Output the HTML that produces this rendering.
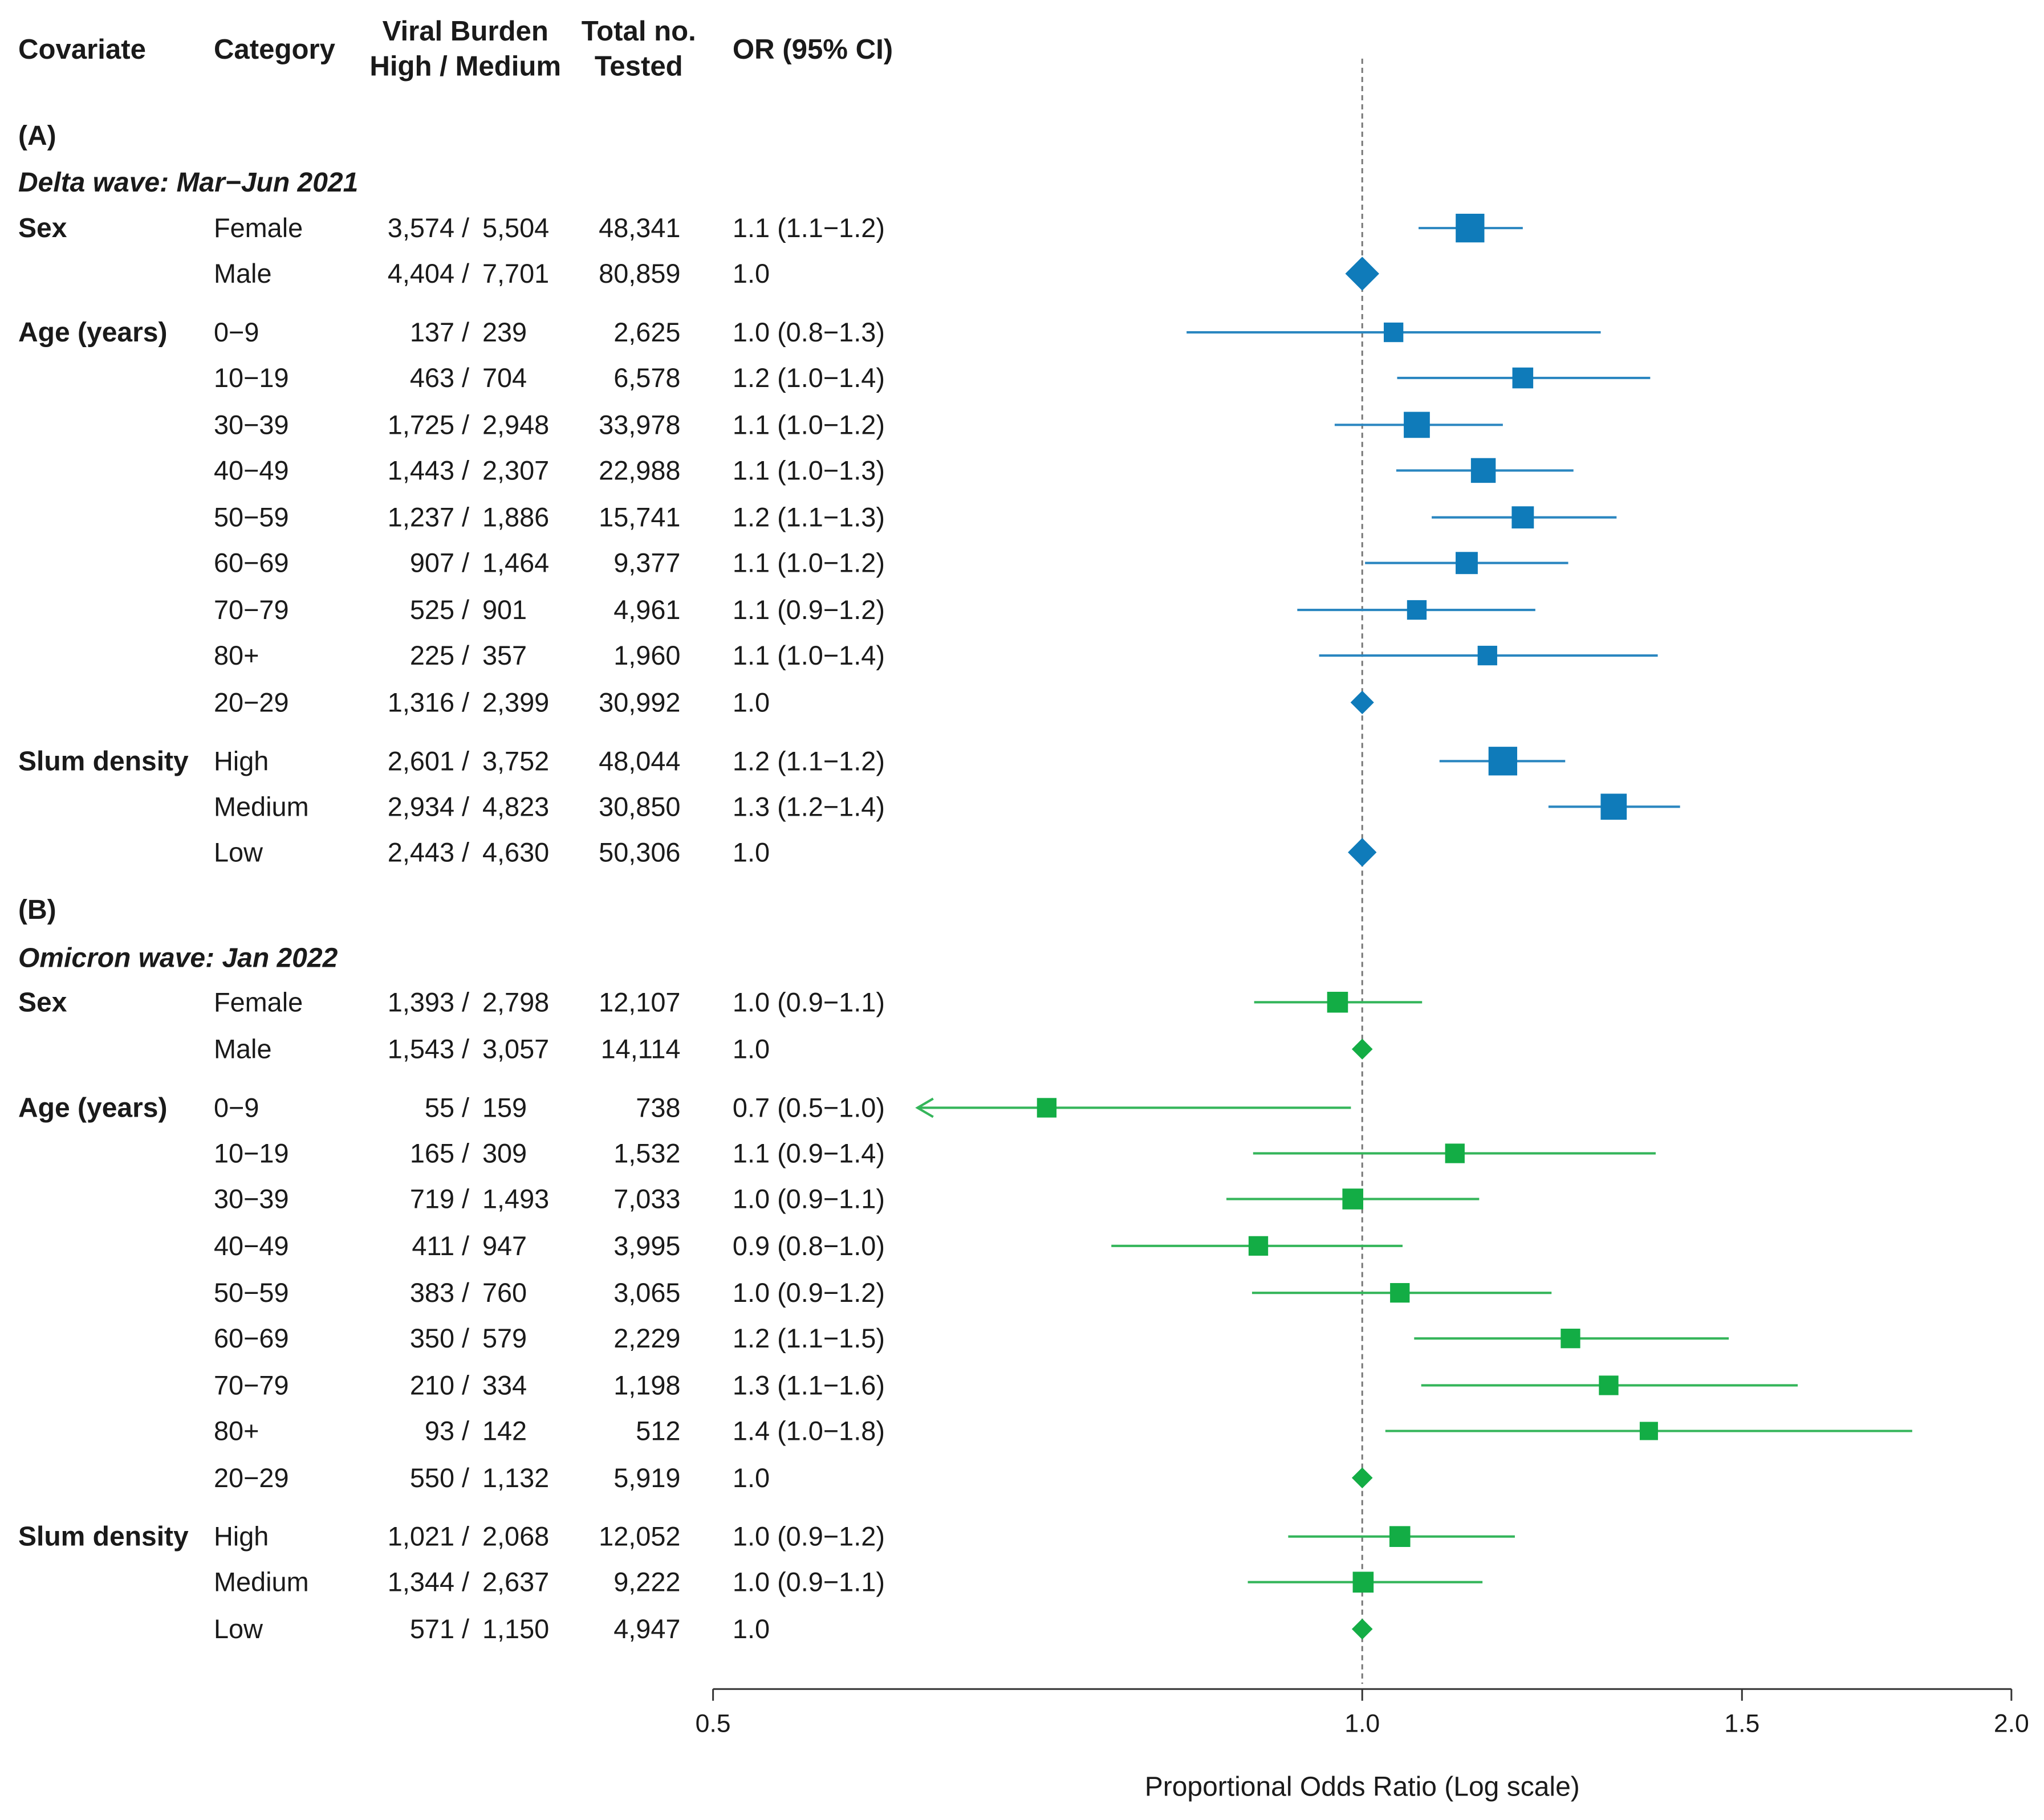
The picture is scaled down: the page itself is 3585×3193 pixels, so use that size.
<!DOCTYPE html>
<html><head><meta charset="utf-8"><style>
html,body{margin:0;padding:0;background:#fff}
svg{display:block}
text{font-family:"Liberation Sans",Arial,sans-serif;fill:#1a1a1a}
</style></head><body>
<svg id="chart" width="3585" height="3193" viewBox="0 0 1568 1396.5" preserveAspectRatio="none" xmlns="http://www.w3.org/2000/svg">
<g id="hdr" font-weight="bold" font-size="21.5">
<text x="14" y="45">Covariate</text>
<text x="164" y="45">Category</text>
<text x="357" y="31" text-anchor="middle">Viral Burden</text>
<text x="357" y="58" text-anchor="middle">High / Medium</text>
<text x="490" y="31" text-anchor="middle">Total no.</text>
<text x="490" y="58" text-anchor="middle">Tested</text>
<text x="562" y="45">OR (95% CI)</text>
</g>
<g id="labels" font-size="20.5"></g>
<g id="plot"></g>
</svg>
<script>
const NS="http://www.w3.org/2000/svg";
// Data arrays
const rowY=[175,210,255,290,326,361,397,432,468,503,539,584,619,654,769,805,850,885,920,956,992,1027,1063,1098,1134,1179,1214,1250];
const covariates=["Sex","","Age (years)","","","","","","","","","Slum density","","","Sex","","Age (years)","","","","","","","","","Slum density","",""];
const categories=["Female","Male","0\u22129","10\u221219","30\u221239","40\u221249","50\u221259","60\u221269","70\u221279","80+","20\u221229","High","Medium","Low","Female","Male","0\u22129","10\u221219","30\u221239","40\u221249","50\u221259","60\u221269","70\u221279","80+","20\u221229","High","Medium","Low"];
const highCounts=["3,574","4,404","137","463","1,725","1,443","1,237","907","525","225","1,316","2,601","2,934","2,443","1,393","1,543","55","165","719","411","383","350","210","93","550","1,021","1,344","571"];
const medCounts=["5,504","7,701","239","704","2,948","2,307","1,886","1,464","901","357","2,399","3,752","4,823","4,630","2,798","3,057","159","309","1,493","947","760","579","334","142","1,132","2,068","2,637","1,150"];
const totals=["48,341","80,859","2,625","6,578","33,978","22,988","15,741","9,377","4,961","1,960","30,992","48,044","30,850","50,306","12,107","14,114","738","1,532","7,033","3,995","3,065","2,229","1,198","512","5,919","12,052","9,222","4,947"];
const orLabels=["1.1 (1.1\u22121.2)","1.0","1.0 (0.8\u22121.3)","1.2 (1.0\u22121.4)","1.1 (1.0\u22121.2)","1.1 (1.0\u22121.3)","1.2 (1.1\u22121.3)","1.1 (1.0\u22121.2)","1.1 (0.9\u22121.2)","1.1 (1.0\u22121.4)","1.0","1.2 (1.1\u22121.2)","1.3 (1.2\u22121.4)","1.0","1.0 (0.9\u22121.1)","1.0","0.7 (0.5\u22121.0)","1.1 (0.9\u22121.4)","1.0 (0.9\u22121.1)","0.9 (0.8\u22121.0)","1.0 (0.9\u22121.2)","1.2 (1.1\u22121.5)","1.3 (1.1\u22121.6)","1.4 (1.0\u22121.8)","1.0","1.0 (0.9\u22121.2)","1.0 (0.9\u22121.1)","1.0"];
const orValues=[1.122,1,1.034,1.187,1.060,1.138,1.187,1.118,1.060,1.143,1,1.162,1.308,1,0.974,1,0.714,1.104,0.990,0.895,1.041,1.249,1.301,1.358,1,1.041,1.001,1];
const ciLow=[1.062,null,0.829,1.038,0.971,1.037,1.077,1.003,0.933,0.955,null,1.086,1.220,null,0.891,null,0.5,0.890,0.865,0.765,0.889,1.057,1.065,1.025,null,0.924,0.885,null];
const ciHigh=[1.187,null,1.290,1.360,1.162,1.253,1.312,1.246,1.203,1.371,null,1.242,1.404,null,1.066,null,0.988,1.368,1.133,1.044,1.224,1.479,1.592,1.799,null,1.177,1.137,null];
const isRef=[0,1,0,0,0,0,0,0,0,0,1,0,0,1,0,1,0,0,0,0,0,0,0,0,1,0,0,1];
const weights=[22,13,15,16,20,19,17,17,15,15,9,22,20,11,16,8,15,15,16,15,15,15,15,14,8,16,16,8];
const waveIdx=[0,0,0,0,0,0,0,0,0,0,0,0,0,0,1,1,1,1,1,1,1,1,1,1,1,1,1,1];
const waveColors=["#0f7bba","#13ad45"];
const ciColors=["#2a86c0","#34b55a"];
const tickValues=[0.5,1.0,1.5,2.0];
const tickLabels=["0.5","1.0","1.5","2.0"];
const sectionLabels=[["(A)",104,false],["Delta wave: Mar\u2212Jun 2021",140,true],["(B)",698,false],["Omicron wave: Jan 2022",735,true]];
const xMinVal=0.5, xMaxVal=2.0, clipMin=0.622;
const X0=547, X1=1543;
function xs(v){return X0+(Math.log2(v)-Math.log2(xMinVal))/(Math.log2(xMaxVal)-Math.log2(xMinVal))*(X1-X0);}
function mk(tag,attrs,parent,txt){const e=document.createElementNS(NS,tag);for(const k in attrs)e.setAttribute(k,attrs[k]);if(txt!==undefined)e.textContent=txt;parent.appendChild(e);return e;}
const L=document.getElementById('labels'), P=document.getElementById('plot');
sectionLabels.forEach(s=>{
  const t=mk('text',{x:14,y:s[1]+7,'font-weight':'bold','font-style':s[2]?'italic':'normal','font-size':21},L,s[0]);
  
  
});
rowY.forEach((y,i)=>{
  const ty=y+7;
  if(covariates[i]){const t=mk('text',{x:14,y:ty,'font-weight':'bold','font-size':21},L,covariates[i]);
    
    }
  const c=mk('text',{x:164,y:ty},L,categories[i]);
  
  
  const h=mk('text',{x:360,y:ty,'text-anchor':'end'},L,highCounts[i]+" /");
  
  
  const m=mk('text',{x:370,y:ty},L,medCounts[i]);
  
  
  const tt=mk('text',{x:522,y:ty,'text-anchor':'end'},L,totals[i]);
  
  
  const o=mk('text',{x:562,y:ty},L,orLabels[i]);
  
  
});
// reference line
const ref=mk('line',{x1:xs(1),x2:xs(1),y1:45,y2:1292,stroke:'#777','stroke-width':1.3,'stroke-dasharray':'4,3'},P);


rowY.forEach((y,i)=>{
  const col=waveColors[waveIdx[i]], s=weights[i];
  if(isRef[i]){
    const cx=xs(orValues[i]);
    const d=mk('polygon',{points:`${cx-s},${y} ${cx},${y-s} ${cx+s},${y} ${cx},${y+s}`,fill:col},P);
    
    
    return;
  }
  const lo=Math.max(ciLow[i],clipMin), x1=xs(lo), x2=xs(ciHigh[i]);
  const ln=mk('line',{x1:x1,x2:x2,y1:y,y2:y,stroke:ciColors[waveIdx[i]],'stroke-width':1.8},P);
  
  
  if(ciLow[i]<clipMin){
    const a=mk('polyline',{points:`${x1+12},${y-7} ${x1},${y} ${x1+12},${y+7}`,fill:'none',stroke:ciColors[waveIdx[i]],'stroke-width':1.8},P);
    
    
  }
  const cx=xs(orValues[i]);
  const r=mk('rect',{x:cx-s/2,y:y-s/2,width:s,height:s,fill:col},P);
  
  
});
// axis
const ax=mk('line',{x1:X0,x2:X1,y1:1296,y2:1296,stroke:'#333','stroke-width':1.3},P);


tickValues.forEach((v,i)=>{
  const tk=mk('line',{x1:xs(v),x2:xs(v),y1:1296,y2:1305,stroke:'#333','stroke-width':1.3},P);
  
  
  const tl=mk('text',{x:xs(v),y:1329,'text-anchor':'middle','font-size':19.5},P,tickLabels[i]);
  
  
});
const at=mk('text',{x:xs(1),y:1378,'text-anchor':'middle','font-size':21},P,'Proportional Odds Ratio (Log scale)');


</script>
</body></html>
